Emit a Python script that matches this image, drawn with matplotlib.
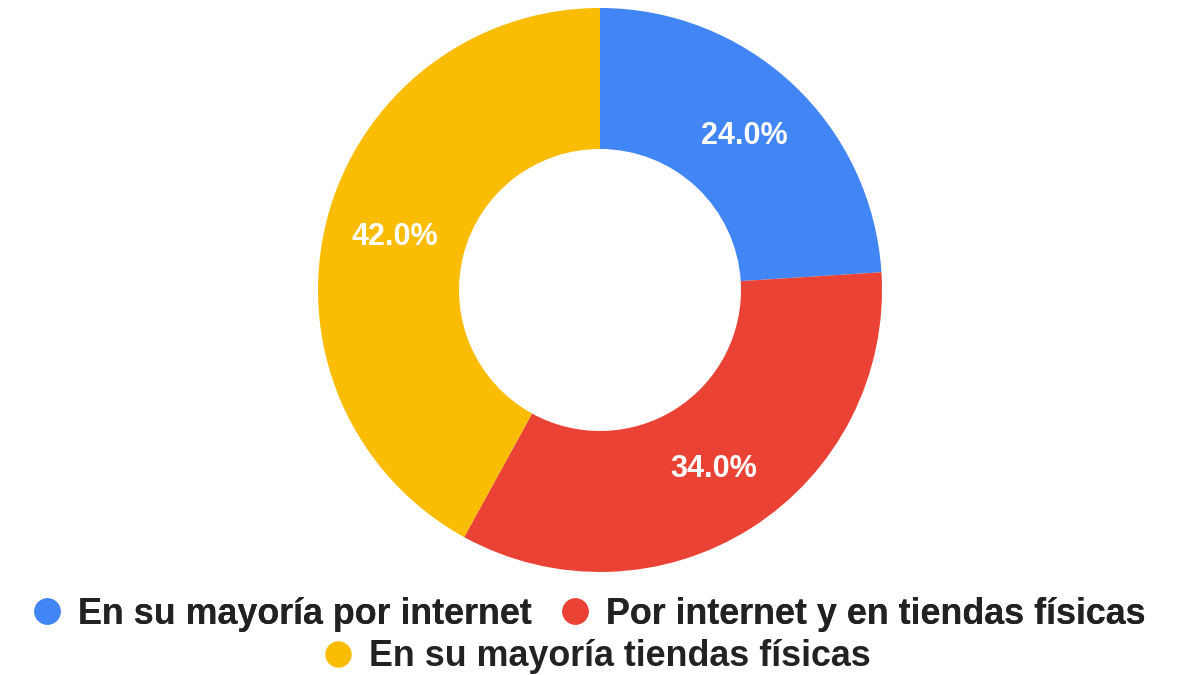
import matplotlib.pyplot as plt
from matplotlib.lines import Line2D

# Datos del gráfico
categorias = ['En su mayoría por internet',
              'Por internet y en tiendas físicas',
              'En su mayoría tiendas físicas']
porcentajes = [24.0, 34.0, 42.0]
colores = ['#4285F4', '#EA4335', '#FBBC04']

plt.rcParams['font.family'] = ['Liberation Sans', 'DejaVu Sans']

fig = plt.figure(figsize=(12, 6.75), dpi=100)
# eje cuadrado: centro en (600, 290) px, radio 282 px
ax = fig.add_axes([0.265, 0.1526, 0.47, 0.8356])

wedges, textos, autotextos = ax.pie(
    porcentajes, colors=colores, startangle=90, counterclock=False,
    radius=1.0, wedgeprops=dict(width=0.5, linewidth=0),
    autopct='%.1f%%', pctdistance=0.75,
    textprops=dict(color='white', fontsize=22, fontweight='bold'))
ax.set_xlim(-1, 1)
ax.set_ylim(-1, 1)
ax.set_aspect('equal')
ax.axis('off')

# Leyenda en dos filas, centrada
handles = [Line2D([], [], marker='o', linestyle='', markersize=18,
                  markerfacecolor=c, markeredgecolor=c) for c in colores]
estilo = dict(frameon=False, handlelength=0.7,
              handletextpad=0.5, columnspacing=0.88, borderaxespad=0,
              borderpad=0, prop=dict(weight='bold', size=25.8))
leg1 = fig.legend(handles[:2], categorias[:2], ncol=2, loc='center',
                  bbox_to_anchor=(590 / 1200, 1 - 614 / 675), **estilo)
for t in leg1.get_texts():
    t.set_color('#222222')
leg2 = fig.legend(handles[2:], categorias[2:], ncol=1, loc='center',
                  bbox_to_anchor=(598 / 1200, 1 - 657 / 675), **estilo)
for t in leg2.get_texts():
    t.set_color('#222222')
fig.add_artist(leg1)

fig.savefig('out.png', dpi=100, facecolor='white')
